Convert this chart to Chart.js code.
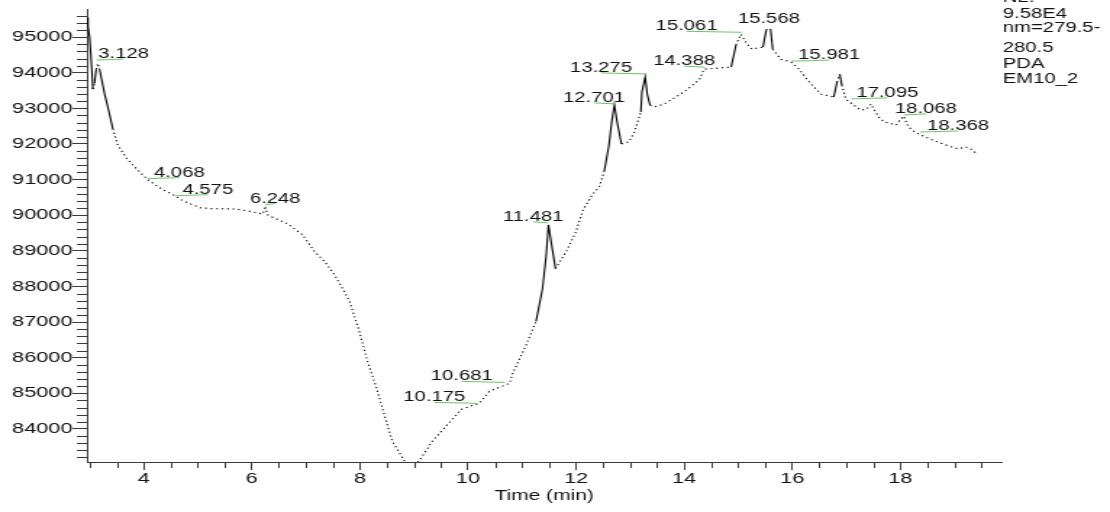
<!DOCTYPE html>
<html>
<head>
<meta charset="utf-8">
<script src="https://cdn.jsdelivr.net/npm/chart.js@4.4.1/dist/chart.umd.min.js"></script>
<style>
  html, body { margin: 0; padding: 0; background: #fff; overflow: hidden; }
</style>
</head>
<body>
<!-- drawn narrow, shown stretched like the original export -->
<canvas id="trace" width="766" height="512" style="display:block;width:1110px;height:512px"></canvas>
<script>
const times = [
  2.95, 2.97, 3.00, 3.04, 3.06, 3.09, 3.12, 3.15, 3.18, 3.22, 3.28, 3.35, 3.43, 3.52, 3.69, 3.87,
  4.07, 4.35, 4.54, 4.72, 5.04, 5.28, 5.53, 5.72, 6.00, 6.20, 6.25, 6.30, 6.66, 6.94, 7.16, 7.35,
  7.53, 7.68, 7.81, 7.99, 8.14, 8.31, 8.45, 8.60, 8.77, 8.95, 9.16, 9.34, 9.71, 9.88, 10.21, 10.40,
  10.64, 10.77, 10.82, 10.95, 11.08, 11.26, 11.38, 11.45, 11.49, 11.56, 11.62, 11.82, 12.00, 12.13,
  12.30, 12.43, 12.52, 12.61, 12.66, 12.71, 12.76, 12.84, 12.98, 13.08, 13.20, 13.22, 13.28, 13.32,
  13.37, 13.45, 13.63, 13.85, 14.02, 14.28, 14.37, 14.62, 14.87, 14.96, 15.05, 15.17, 15.26, 15.36,
  15.46, 15.52, 15.55, 15.60, 15.64, 15.79, 15.98, 16.13, 16.27, 16.37, 16.53, 16.77, 16.83, 16.88,
  16.92, 16.99, 17.14, 17.27, 17.38, 17.46, 17.51, 17.60, 17.70, 17.92, 18.01, 18.07, 18.12, 18.21,
  18.38, 18.65, 18.94, 19.08, 19.21, 19.30, 19.42
];
const signal = [
  95550, 95300, 95000, 94100, 93540, 93700, 94100, 94260, 94120, 93820, 93380, 92950, 92420, 91970, 91580, 91300,
  91000, 90720, 90580, 90410, 90210, 90180, 90180, 90170, 90100, 90030, 90200, 90000, 89760, 89450, 88980, 88700,
  88330, 87940, 87580, 86740, 85900, 85140, 84410, 83650, 83240, 82800, 83240, 83650, 84270, 84550, 84720, 85060,
  85200, 85280, 85530, 85950, 86370, 87020, 87940, 88890, 89730, 89060, 88500, 88980, 89540, 90150,
  90570, 90800, 91220, 91970, 92620, 93100, 92620, 92000, 92060, 92340, 92900, 93460, 93880, 93380,
  93090, 93040, 93120, 93320, 93490, 93800, 94100, 94130, 94160, 94780, 95080, 94800, 94660, 94700,
  94720, 95200, 95250, 95230, 94660, 94380, 94300, 94100, 93820, 93650, 93400, 93320, 93740, 93960,
  93650, 93260, 93090, 92950, 92980, 93120, 92980, 92760, 92620, 92530, 92700, 92780, 92560, 92390,
  92250, 92080, 91920, 91860, 91920, 91860, 91720
];

const peakTimes = [3.128, 4.068, 4.575, 6.248, 10.175, 10.681, 11.481, 12.701, 13.275, 14.388, 15.061, 15.568, 15.981, 17.095, 18.068, 18.368];
const peakLabels = ['3.128', '4.068', '4.575', '6.248', '10.175', '10.681', '11.481', '12.701', '13.275', '14.388', '15.061', '15.568', '15.981', '17.095', '18.068', '18.368'];
const peakValues = [94300, 90970, 90490, 90240, 84660, 85250, 89730, 93070, 93910, 94100, 95080, 95280, 94270, 93210, 92760, 92280];

const infoLines = ['NL:', '9.58E4', 'nm=279.5-', '280.5', 'PDA', 'EM10_2'];

// layout for the annotations (canvas px)
const leaderLen = [18.6, 22, 22.8, 6.9, -29.7, -29.7, -10.3, -13.8, -30.3, -14.5, -37.9, 0, 26.2, 24.8, 15.2, 26.2];
const infoY = [-1.5, 13.8, 28.5, 48, 64, 79.3];

const FONT = '"Liberation Sans", Arial, sans-serif';
const AXIS = '#3a3a3a';

const isMultiple = (v, step) => Math.abs(v / step - Math.round(v / step)) < 1e-6;

const minorTicks = {
  id: 'minorTicks',
  afterDraw(chart) {
    const { ctx, chartArea: a, scales: { x, y } } = chart;
    ctx.save();
    ctx.strokeStyle = AXIS;
    ctx.lineWidth = 1;
    ctx.beginPath();
    y.ticks.forEach(t => {
      if (!isMultiple(t.value, 1000)) {
        const py = Math.round(y.getPixelForValue(t.value)) + 0.5;
        ctx.moveTo(a.left - 7, py);
        ctx.lineTo(a.left, py);
      }
    });
    x.ticks.forEach(t => {
      if (!isMultiple(t.value, 2)) {
        const px = Math.round(x.getPixelForValue(t.value)) + 0.5;
        ctx.moveTo(px, a.bottom);
        ctx.lineTo(px, a.bottom + 6);
      }
    });
    ctx.stroke();
    ctx.restore();
  }
};

const peakMarks = {
  id: 'peakMarks',
  afterDraw(chart) {
    const { ctx, chartArea: a, scales: { x, y } } = chart;
    ctx.save();
    ctx.font = '14px ' + FONT;
    ctx.textAlign = 'center';
    ctx.textBaseline = 'alphabetic';
    peakTimes.forEach((t, i) => {
      const px = x.getPixelForValue(t);
      const py = y.getPixelForValue(peakValues[i]);
      const d = leaderLen[i];
      if (d !== 0) {
        ctx.strokeStyle = '#6cc46c';
        ctx.lineWidth = 1;
        ctx.beginPath();
        ctx.moveTo(px, py - 2);
        ctx.lineTo(px + d, py - 3);
        ctx.stroke();
      }
      ctx.fillStyle = '#111';
      ctx.fillText(peakLabels[i], px + d, py - 4);
    });

    ctx.textAlign = 'left';
    ctx.textBaseline = 'middle';
    infoLines.forEach((s, i) => ctx.fillText(s, a.right + 1, infoY[i]));
    ctx.restore();
  }
};

new Chart(document.getElementById('trace'), {
  type: 'line',
  data: {
    datasets: [{
      data: times.map((t, i) => ({ x: t, y: signal[i] })),
      borderColor: '#000',
      borderWidth: 1.1,
      pointRadius: 0,
      tension: 0,
      segment: {
        borderDash: c => Math.abs(c.p1.y - c.p0.y) > 5.5 * Math.abs(c.p1.x - c.p0.x) ? undefined : [1.2, 2.6]
      }
    }]
  },
  options: {
    responsive: false,
    devicePixelRatio: 1,
    animation: false,
    layout: { padding: { left: 0, right: 75, top: 6, bottom: 0 } },
    plugins: { legend: { display: false }, tooltip: { enabled: false } },
    scales: {
      x: {
        type: 'linear',
        min: 2.95,
        max: 19.87,
        afterFit: s => { s.height = 50; },
        border: { color: AXIS, width: 1 },
        grid: {
          drawOnChartArea: false,
          tickLength: 8,
          tickColor: c => (c.tick && isMultiple(c.tick.value, 2)) ? AXIS : 'rgba(0,0,0,0)'
        },
        ticks: {
          stepSize: 0.5,
          includeBounds: false,
          autoSkip: false,
          maxRotation: 0,
          padding: 0,
          color: '#111',
          font: { family: FONT, size: 15 },
          callback: v => isMultiple(v, 2) ? String(Math.round(v)) : ''
        },
        title: {
          display: true,
          text: 'Time (min)',
          color: '#111',
          font: { family: FONT, size: 14.5 },
          padding: { top: 0, bottom: 7 }
        }
      },
      y: {
        // range chosen so it is not a near-whole number of steps (Chart.js would re-space the ticks)
        min: 83070,
        max: 95790,
        afterFit: s => { s.width = 60; },
        border: { color: AXIS, width: 1 },
        grid: {
          drawOnChartArea: false,
          tickLength: 10,
          tickColor: c => (c.tick && isMultiple(c.tick.value, 1000)) ? AXIS : 'rgba(0,0,0,0)'
        },
        ticks: {
          stepSize: 200,
          maxTicksLimit: 1000,
          includeBounds: false,
          autoSkip: false,
          padding: 0,
          color: '#111',
          font: { family: FONT, size: 15 },
          callback: v => isMultiple(v, 1000) ? String(Math.round(v)) : ''
        }
      }
    }
  },
  plugins: [minorTicks, peakMarks]
});
</script>
</body>
</html>
